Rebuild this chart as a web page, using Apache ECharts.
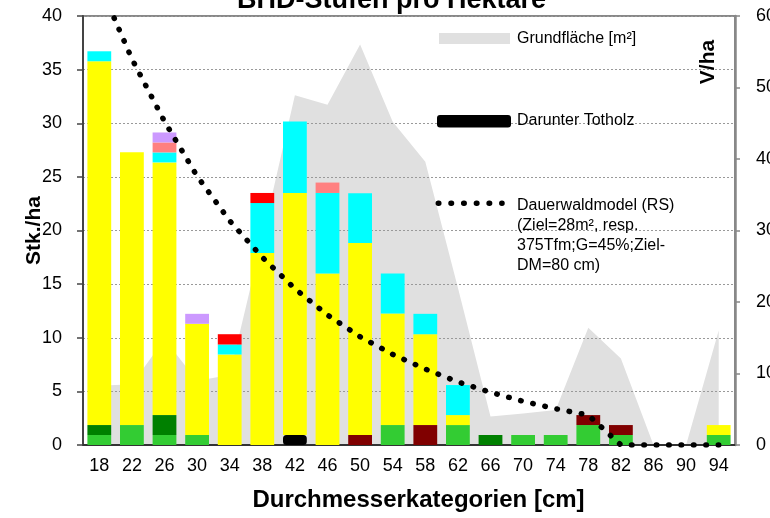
<!DOCTYPE html>
<html>
<head>
<meta charset="utf-8">
<title>BHD-Stufen pro Hektare</title>
<script src="https://cdn.jsdelivr.net/npm/echarts@6/dist/echarts.min.js"></script>
<style>
  html, body { margin: 0; padding: 0; background: #fff; }
  #main { width: 770px; height: 518px; }
</style>
</head>
<body>
<div id="main"></div>
<script>
// Durchmesserkategorien [cm]
var categories = ['18', '22', '26', '30', '34', '38', '42', '46', '50', '54',
                  '58', '62', '66', '70', '74', '78', '82', '86', '90', '94'];

// Stk./ha, stacked from bottom to top
var lightGreen = [0.93, 1.86, 0.93, 0.93, 0, 0, 0, 0, 0, 1.86, 0, 1.86, 0, 0.93, 0.93, 1.86, 0.93, 0, 0, 0.93];
var darkGreen  = [0.93, 0, 1.86, 0, 0, 0, 0, 0, 0, 0, 0, 0, 0.93, 0, 0, 0, 0, 0, 0, 0];
var deadwood   = [0, 0, 0, 0, 0, 0, 0.93, 0, 0, 0, 0, 0, 0, 0, 0, 0, 0, 0, 0, 0];
var darkRed    = [0, 0, 0, 0, 0, 0, 0, 0, 0.93, 0, 1.86, 0, 0, 0, 0, 0.93, 0.93, 0, 0, 0];
var yellow     = [33.92, 25.44, 23.56, 10.37, 8.44, 17.9, 22.56, 16.0, 17.9, 10.4, 8.47, 0.93, 0, 0, 0, 0, 0, 0, 0, 0.93];
var cyan       = [0.93, 0, 0.93, 0, 0.93, 4.66, 6.68, 7.5, 4.65, 3.73, 1.9, 2.8, 0, 0, 0, 0, 0, 0, 0, 0];
var red        = [0, 0, 0, 0, 0.96, 0.94, 0, 0, 0, 0, 0, 0, 0, 0, 0, 0, 0, 0, 0, 0];
var salmon     = [0, 0, 0.93, 0, 0, 0, 0, 0.97, 0, 0, 0, 0, 0, 0, 0, 0, 0, 0, 0, 0];
var lavender   = [0, 0, 0.93, 0.93, 0, 0, 0, 0, 0, 0, 0, 0, 0, 0, 0, 0, 0, 0, 0, 0];

// Grundfläche (right axis)
var basalArea = [8.3, 8.5, 14.8, 9.0, 9.8, 29, 48.9, 47.6, 56, 45.2, 39.6, 22, 4.0, 4.4, 4.9, 16.4, 12.1, 0, 0, 16];

// Dauerwaldmodel (RS), left axis
var modelLine = [43.0, 36.0, 30.17, 25.07, 20.9, 17.5, 14.57, 12.12, 10.09, 8.45, 7.08, 5.88, 4.92, 4.07, 3.38, 2.79, 0, 0, 0, 0];

var leftTicks = [0, 40, 5];
var rightTicks = [0, 60, 10];

var sans = '"Liberation Sans", Arial, sans-serif';

var stackParts = [
  ['hellgrün', lightGreen, '#33CC33'],
  ['dunkelgrün', darkGreen, '#008000'],
  ['Darunter Totholz', deadwood, '#000000'],
  ['dunkelrot', darkRed, '#800000'],
  ['gelb', yellow, '#FFFF00'],
  ['türkis', cyan, '#00FFFF'],
  ['rot', red, '#FF0000'],
  ['lachs', salmon, '#FF8080'],
  ['lila', lavender, '#CC99FF']
];

var chart = echarts.init(document.getElementById('main'));

// gray area sits under the grid lines
var series = [{
  name: 'Grundfläche [m²]',
  type: 'line',
  yAxisIndex: 1,
  data: basalArea,
  symbol: 'none',
  silent: true,
  z: -1,
  lineStyle: { width: 0, opacity: 0 },
  areaStyle: { color: '#E0E0E0', opacity: 1 }
}];

stackParts.forEach(function (p) {
  var s = {
    name: p[0],
    type: 'bar',
    stack: 'total',
    barCategoryGap: '27%',
    z: 3,
    data: p[1].map(function (v) { return v || null; }),
    itemStyle: { color: p[2] }
  };
  if (p[0] === 'Darunter Totholz') {
    s.itemStyle.borderColor = '#000';
    s.itemStyle.borderWidth = 3;
    s.itemStyle.borderRadius = 2;
  }
  series.push(s);
});

series.push({
  name: 'Dauerwaldmodel (RS)',
  type: 'line',
  data: modelLine,
  symbol: 'none',
  z: 5,
  lineStyle: { color: '#000', width: 5.5, type: [0.5, 11.9], cap: 'round', join: 'round' }
});

chart.setOption({
  animation: false,
  title: {
    text: 'BHD-Stufen pro Hektare',
    left: 237,
    top: -13,
    padding: 0,
    textStyle: { fontFamily: sans, fontSize: 27, fontWeight: 'bold', color: '#000' }
  },
  grid: {
    left: 83, right: 35, top: 16, bottom: 73,
    outerBoundsMode: 'none',
    show: true, borderColor: '#888', borderWidth: 2
  },
  xAxis: {
    type: 'category',
    data: categories,
    axisLine: { lineStyle: { color: '#333', width: 2 } },
    axisTick: { length: 6, lineStyle: { color: '#333', width: 1.5 } },
    axisLabel: { fontFamily: sans, fontSize: 18, color: '#000', margin: 12 },
    name: 'Durchmesserkategorien [cm]',
    nameLocation: 'middle',
    nameGap: 43,
    nameMoveOverlap: false,
    nameTextStyle: { fontFamily: sans, fontSize: 24, fontWeight: 'bold', color: '#000', padding: [0, 0, 0, 19] }
  },
  yAxis: [{
    type: 'value',
    min: leftTicks[0], max: leftTicks[1], interval: leftTicks[2],
    position: 'left',
    axisLine: { show: true, lineStyle: { color: '#444', width: 2 } },
    axisTick: { show: true, length: 6, lineStyle: { color: '#444', width: 1.5 } },
    axisLabel: { fontFamily: sans, fontSize: 18, color: '#000', margin: 21 },
    splitLine: { lineStyle: { color: '#999', type: [2, 2], width: 1 } },
    name: 'Stk./ha',
    nameLocation: 'middle',
    nameGap: 38,
    nameMoveOverlap: false,
    nameTextStyle: { fontFamily: sans, fontSize: 21, fontWeight: 'bold', color: '#000' }
  }, {
    type: 'value',
    min: rightTicks[0], max: rightTicks[1], interval: rightTicks[2],
    position: 'right',
    axisLine: { show: true, lineStyle: { color: '#888', width: 2.5 } },
    axisTick: { show: true, length: 5, lineStyle: { color: '#888', width: 1.5 } },
    axisLabel: { fontFamily: sans, fontSize: 18, color: '#000', margin: 21 },
    splitLine: { show: false }
  }],
  graphic: [
    { type: 'text', x: 708, y: 62, rotation: Math.PI / 2, z: 100,
      style: { text: 'V/ha', font: 'bold 21px ' + sans, fill: '#000', align: 'center', verticalAlign: 'middle' } },
    { type: 'rect', z: 100, shape: { x: 439, y: 33, width: 71, height: 11 }, style: { fill: '#E0E0E0' } },
    { type: 'text', x: 517, y: 39, z: 100,
      style: { text: 'Grundfläche [m²]', font: '16px ' + sans, fill: '#000', verticalAlign: 'middle' } },
    { type: 'rect', z: 100, shape: { x: 437, y: 115, width: 74, height: 12.5, r: 3 }, style: { fill: '#000' } },
    { type: 'text', x: 517, y: 121, z: 100,
      style: { text: 'Darunter Totholz', font: '16px ' + sans, fill: '#000', verticalAlign: 'middle' } },
    { type: 'line', z: 100, shape: { x1: 438.3, y1: 203.3, x2: 502, y2: 203.3 },
      style: { stroke: '#000', lineWidth: 5.5, lineDash: [0.5, 12.2], lineCap: 'round' } },
    { type: 'text', x: 517, y: 195, z: 100,
      style: { text: 'Dauerwaldmodel (RS)\n(Ziel=28m², resp.\n375Tfm;G=45%;Ziel-\nDM=80 cm)',
               font: '16px ' + sans, fill: '#000', lineHeight: 20.3, verticalAlign: 'top' } }
  ],
  series: series
});
</script>
</body>
</html>
